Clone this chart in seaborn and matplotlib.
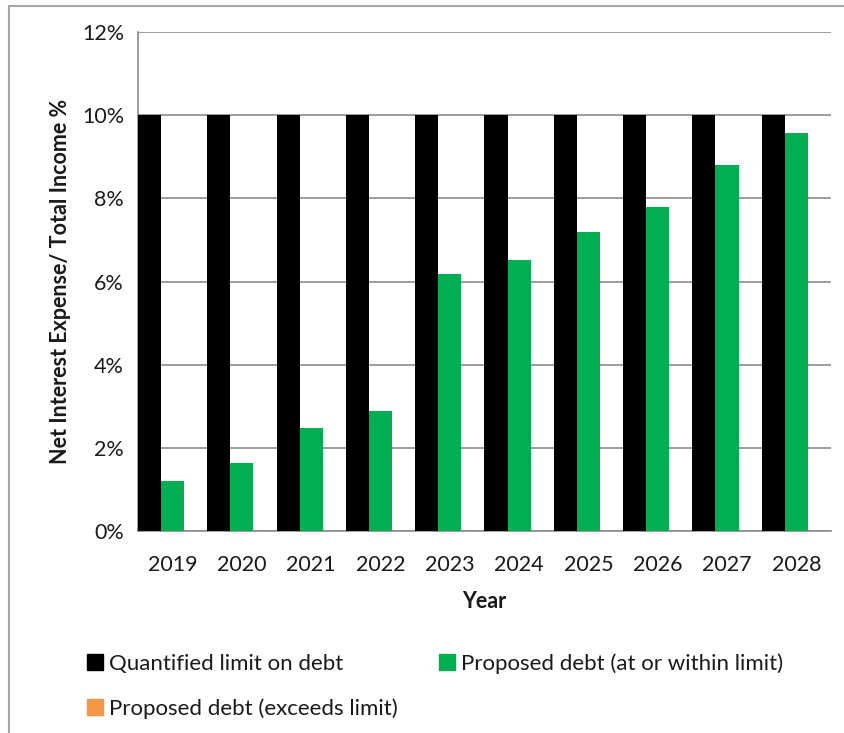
import matplotlib
matplotlib.use("Agg")
import matplotlib.pyplot as plt
import matplotlib.patches as mpatches
import matplotlib.lines as mlines
import seaborn as sns
import pandas as pd
from matplotlib.ticker import FuncFormatter

years = ["2019", "2020", "2021", "2022", "2023", "2024", "2025", "2026", "2027", "2028"]
limit = [10, 10, 10, 10, 10, 10, 10, 10, 10, 10]
within = [1.20, 1.63, 2.48, 2.88, 6.18, 6.51, 7.19, 7.79, 8.80, 9.57]
exceeds = [0, 0, 0, 0, 0, 0, 0, 0, 0, 0]
series = ["Quantified limit on debt", "Proposed debt (at or within limit)",
          "Proposed debt (exceeds limit)"]
colors = ["#000000", "#00B050", "#F79646"]

df = pd.DataFrame({
    "Year": years * 3,
    "value": limit + within + exceeds,
    "series": [series[0]] * 10 + [series[1]] * 10 + [series[2]] * 10,
})

sns.set_style("white")
plt.rcParams["font.family"] = ["Lato", "DejaVu Sans"]
txt = "#1a1a1a"
fs = 15.5

fig = plt.figure(figsize=(8.45, 7.33), dpi=100)
ax = fig.add_axes([0.1633, 0.2756, 0.8201, 0.6807])

sns.barplot(data=df, x="Year", y="value", hue="series", palette=colors,
            width=1.0, gap=0, saturation=1, ax=ax, legend=False, zorder=3,
            linewidth=0)

ax.set_ylim(0, 12)
ax.set_xlim(-0.5, len(years) - 0.5)
ax.set_yticks([0, 2, 4, 6, 8, 10, 12])
ax.yaxis.set_major_formatter(FuncFormatter(lambda v, p: f"{v:.0f}%"))
ax.grid(axis="y", color="#8c8c8c", linewidth=1.2, zorder=0)
ax.grid(axis="x", visible=False)
ax.set_axisbelow(True)

# tick marks sit between categories, labels in the middle
ax.set_xticks([i - 0.5 for i in range(len(years) + 1)], minor=False)
ax.set_xticklabels([])
ax.set_xticks(range(len(years)), minor=True)
ax.set_xticklabels(years, minor=True)
ax.tick_params(axis="x", which="major", length=6, width=1.2, color="#8c8c8c", direction="out")
ax.tick_params(axis="x", which="minor", length=0, pad=17, labelsize=fs, labelcolor=txt)
ax.tick_params(axis="y", length=6, width=1.2, color="#8c8c8c", direction="out",
               labelsize=fs, labelcolor=txt, pad=4)

for s in ["top", "right"]:
    ax.spines[s].set_visible(False)
for s in ["left", "bottom"]:
    ax.spines[s].set_color("#8c8c8c")
    ax.spines[s].set_linewidth(1.2)

ax.set_xlabel("Year", fontsize=fs, fontweight="bold", color=txt, labelpad=12)
ax.set_ylabel("Net Interest Expense/ Total Income %", fontsize=fs, fontweight="bold",
              color=txt, labelpad=8)

handles = [mpatches.Patch(color=c, label=l) for c, l in zip(colors, series)]
order = [0, 2, 1]
fig.legend(handles=[handles[i] for i in order], loc="upper left",
           bbox_to_anchor=(0.103, 0.109), ncol=2, frameon=False, fontsize=16,
           handlelength=0.7, handleheight=0.7, handletextpad=0.3, columnspacing=1.85,
           labelspacing=1.1, labelcolor=txt, borderaxespad=0, borderpad=0)

# outer chart frame (left and top edges visible)
fig.add_artist(mlines.Line2D([0.0107, 0.0107], [0, 0.992], color="#a6a6a6", lw=1.5,
                             transform=fig.transFigure))
fig.add_artist(mlines.Line2D([0.0107, 1.0], [0.992, 0.992], color="#a6a6a6", lw=1.5,
                             transform=fig.transFigure))

fig.savefig("out.png", dpi=100)
